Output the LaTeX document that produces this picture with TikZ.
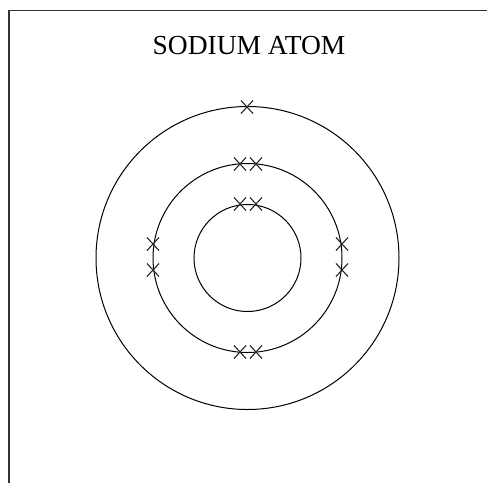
\documentclass[tikz,border=0pt]{standalone}
\usepackage{fontspec}
\setmainfont{Liberation Serif}
\usetikzlibrary{shapes.misc}
\begin{document}
\begin{tikzpicture}[x=1pt,y=-1pt,
  shell/.style={circle,draw=black,line width=1pt,inner sep=0pt},
  electron/.style={cross out,draw=black!85,line width=1.1pt,minimum width=11pt,minimum height=12pt,inner sep=0pt},
  frame/.style={draw=black!80,line width=1.8pt}]
\useasboundingbox (0,0) rectangle (487,483);
\draw[frame] (9,483) -- (9,10.5) -- (487,10.5);
\node[font=\fontsize{27.5}{30}\selectfont] (title) at (249,46) {SODIUM ATOM};
\coordinate (c) at (247.5,258);
\node[shell,minimum size=303pt] (outer) at (c) {};
\node[shell,minimum size=189pt] (middle) at (c) {};
\node[shell,minimum size=107pt] (inner) at (c) {};
% outer shell
\node[electron] (o1) at (247,107) {};
% middle shell
\node[electron] (m1) at (240,164) {};
\node[electron] (m2) at (256,164) {};
\node[electron] (m3) at (240,352) {};
\node[electron] (m4) at (256,352) {};
\node[electron] (m5) at (153,244) {};
\node[electron] (m6) at (153,270) {};
\node[electron] (m7) at (342,244) {};
\node[electron] (m8) at (342,270) {};
% inner shell
\node[electron] (i1) at (240,204) {};
\node[electron] (i2) at (256,204) {};
\end{tikzpicture}
\end{document}
